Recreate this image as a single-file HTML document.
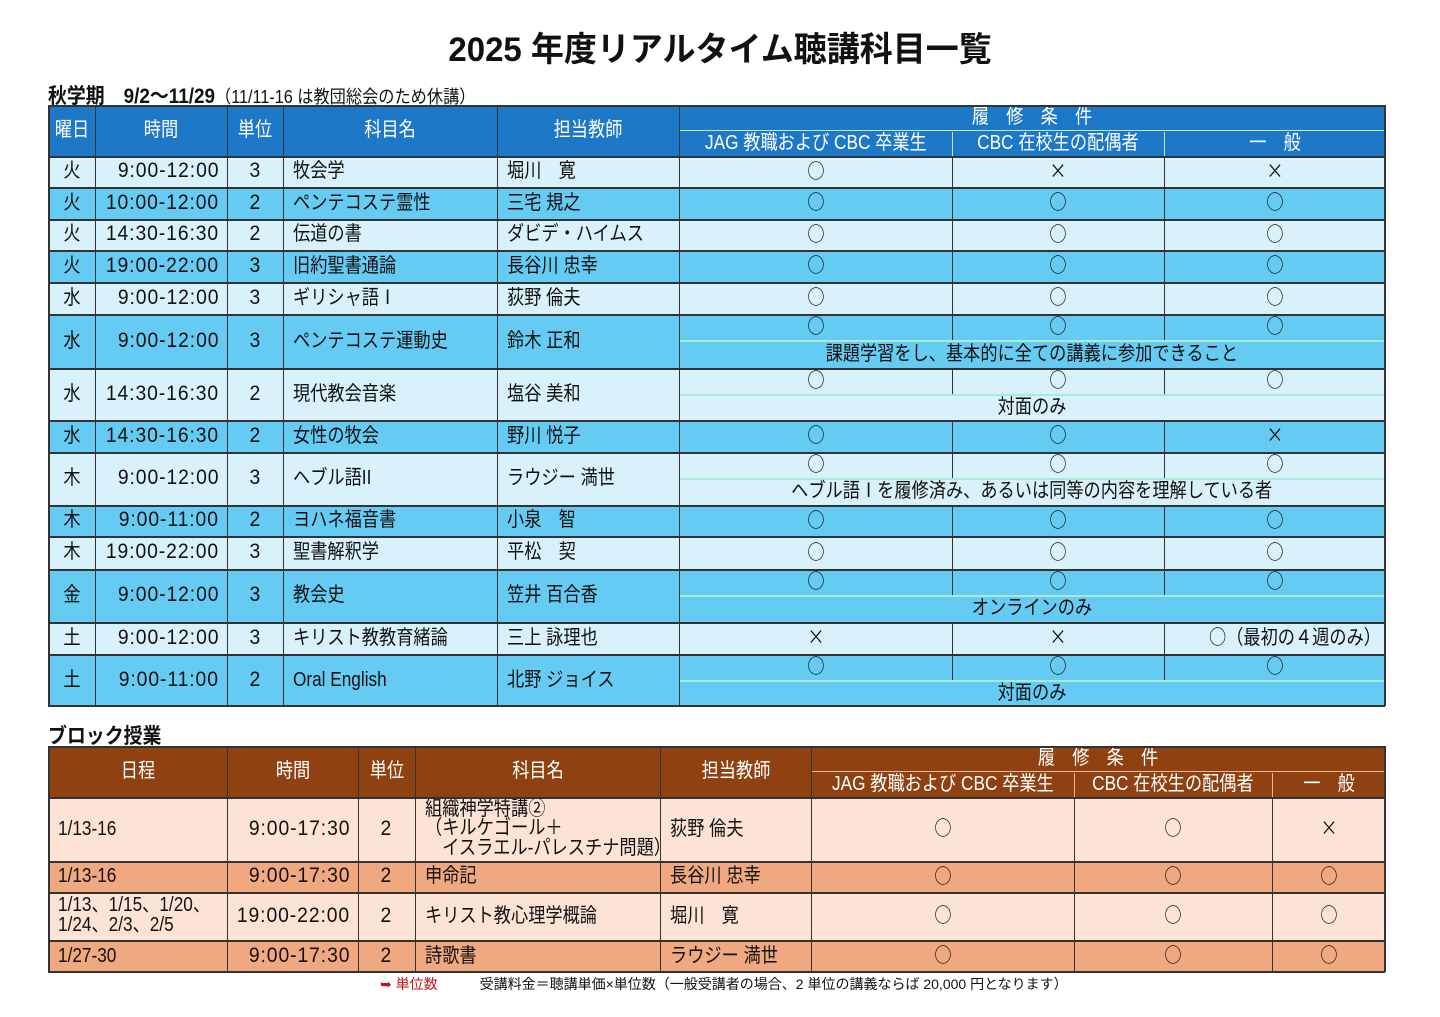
<!DOCTYPE html>
<html lang="ja"><head><meta charset="utf-8">
<style>
html,body{margin:0;padding:0;background:#fff;}
body{width:1440px;height:1017px;position:relative;overflow:hidden;font-family:"Liberation Sans","Noto Sans CJK JP",sans-serif;color:#111;}
.c{position:absolute;box-sizing:border-box;display:flex;align-items:center;overflow:visible;white-space:nowrap;font-size:20px;line-height:1.05;}
.c span{display:inline-block;transform:scaleX(.86);}
.ctr{justify-content:center;}
.ctr span{transform-origin:center;}
.lft{justify-content:flex-start;padding-left:10px;}
.lft span{transform-origin:left center;}
.rgt{justify-content:flex-end;padding-right:8px;}
.rgt span{transform-origin:right center;}
.hd{color:#fff;}
.sym{font-family:"Noto Sans CJK JP",sans-serif;padding-bottom:5px;}
.num{font-size:21px;}
.num span{transform:scaleX(.92);letter-spacing:1px;}
.ln{position:absolute;background:#333;}
</style></head><body>
<div style="position:absolute;left:0;top:22px;width:1440px;text-align:center;font-size:34px;font-weight:bold;"><span style="display:inline-block;transform:scaleX(.97)">2025 年度リアルタイム聴講科目一覧</span></div>
<div style="position:absolute;left:48px;top:80px;font-size:21px;white-space:nowrap;"><span style="display:inline-block;transform:scaleX(.9);transform-origin:left"><b>秋学期　9/2～11/29</b><span style="font-size:18px">（11/11-16 は教団総会のため休講）</span></span></div>
<div style="position:absolute;left:48px;top:720px;font-size:21px;font-weight:bold;white-space:nowrap;"><span style="display:inline-block;transform:scaleX(.9);transform-origin:left">ブロック授業</span></div>
<div id="t1"></div>
<div id="t2"></div>
<div style="position:absolute;left:380px;top:974px;font-size:14px;white-space:nowrap;"><span style="color:#c0141c;">➥ 単位数</span>　　　<span>受講料金＝聴講単価×単位数（一般受講者の場合、2 単位の講義ならば 20,000 円となります）</span></div>
<script>
// autumn table data
const days=['火','火','火','火','水','水','水','水','木','木','木','金','土','土'];
const times=['9:00-12:00','10:00-12:00','14:30-16:30','19:00-22:00','9:00-12:00','9:00-12:00','14:30-16:30','14:30-16:30','9:00-12:00','9:00-11:00','19:00-22:00','9:00-12:00','9:00-12:00','9:00-11:00'];
const units=['3','2','2','3','3','3','2','2','3','2','3','3','3','2'];
const courses=['牧会学','ペンテコステ霊性','伝道の書','旧約聖書通論','ギリシャ語Ⅰ','ペンテコステ運動史','現代教会音楽','女性の牧会','ヘブル語II','ヨハネ福音書','聖書解釈学','教会史','キリスト教教育緒論','Oral English'];
const teachers=['堀川　寛','三宅 規之','ダビデ・ハイムス','長谷川 忠幸','荻野 倫夫','鈴木 正和','塩谷 美和','野川 悦子','ラウジー 満世','小泉　智','平松　契','笠井 百合香','三上 詠理也','北野 ジョイス'];
const condJag=['○','○','○','○','○','○','○','○','○','○','○','○','×','○'];
const condSpouse=['×','○','○','○','○','○','○','○','○','○','○','○','×','○'];
const condGeneral=['×','○','○','○','○','○','○','×','○','○','○','○','○（最初の４週のみ）','○'];
const notes=['','','','','','課題学習をし、基本的に全ての講義に参加できること','対面のみ','','ヘブル語Ⅰを履修済み、あるいは同等の内容を理解している者','','','オンラインのみ','','対面のみ'];
// block table data
const bDates=['1/13-16','1/13-16','1/13、1/15、1/20、<br>1/24、2/3、2/5','1/27-30'];
const bTimes=['9:00-17:30','9:00-17:30','19:00-22:00','9:00-17:30'];
const bUnits=['2','2','2','2'];
const bCourses=['組織神学特講②<br>（キルケゴール＋<br>　イスラエル-パレスチナ問題）','申命記','キリスト教心理学概論','詩歌書'];
const bTeachers=['荻野 倫夫','長谷川 忠幸','堀川　寛','ラウジー 満世'];
const bJag=['○','○','○','○'];
const bSpouse=['○','○','○','○'];
const bGeneral=['×','○','○','○'];

function cell(parent,x,y,w,h,html,cls,bg){
  const d=document.createElement('div');
  d.className='c '+cls;
  d.style.left=x+'px';d.style.top=y+'px';d.style.width=w+'px';d.style.height=h+'px';
  if(bg)d.style.background=bg;
  d.innerHTML='<span>'+html+'</span>';
  parent.appendChild(d);return d;
}
function line(parent,x,y,w,h,col){
  const d=document.createElement('div');d.className='ln';
  d.style.left=x+'px';d.style.top=y+'px';d.style.width=w+'px';d.style.height=h+'px';
  if(col)d.style.background=col;
  parent.appendChild(d);return d;
}
// ---- table 1
const t1=document.getElementById('t1');
const X=[48,95,227,283,497,679,952,1164,1385];
const rowH=[31,32,31,32,32,54,52,32,53,31,33,53,32,52];
const HB='#1e78c8',L1='#d8f1fa',D1='#66cbf2';
let y0=105,hH=51;
cell(t1,X[0],y0,X[8]-X[0],hH,'', '',HB);
const hdr=['曜日','時間','単位','科目名','担当教師'];
for(let i=0;i<5;i++){const e=cell(t1,X[i],y0,X[i+1]-X[i],hH,hdr[i],'ctr hd');

}
let e=cell(t1,X[5],y0,X[8]-X[5],25,'履　修　条　件','ctr hd');


const sub=['JAG 教職および CBC 卒業生','CBC 在校生の配偶者','一　般'];
for(let i=0;i<3;i++){const s=cell(t1,X[5+i],y0+25,X[6+i]-X[5+i],26,sub[i],'ctr hd');

}
line(t1,X[5],y0+25,X[8]-X[5],1,'#bfe3f7');
let y=y0+hH;
const tops=[];
for(let r=0;r<days.length;r++){
  const h=rowH[r],bg=r%2?D1:L1;tops.push(y);
  const row=document.createElement('div');
  
  
  t1.appendChild(row);
  cell(row,X[0],y,X[8]-X[0],h,'','',bg);
  cell(row,X[0],y,X[1]-X[0],h,days[r],'ctr');
  cell(row,X[1],y,X[2]-X[1],h,times[r],'rgt num');
  cell(row,X[2],y,X[3]-X[2],h,units[r],'ctr num');
  cell(row,X[3],y,X[4]-X[3],h,courses[r],'lft');
  cell(row,X[4],y,X[5]-X[4],h,teachers[r],'lft');
  const ch=notes[r]?26:h;
  const cv=[condJag[r],condSpouse[r],condGeneral[r]];
  for(let i=0;i<3;i++){const k=cell(row,X[5+i],y,X[6+i]-X[5+i],ch,cv[i],(cv[i].length>1?'rgt':'ctr')+' sym');
    if(cv[i].length>1)k.style.paddingRight='4px';}
  for(let i=6;i<8;i++)line(row,X[i],y,1,ch);
  if(notes[r]){line(row,X[5]+1,y+ch,X[8]-X[5]-1,2,'#a8ecd8');
    cell(row,X[5],y+ch,X[8]-X[5],h-ch,notes[r],'ctr');}
  y+=h;
}
for(const t of tops)line(t1,X[0],t,X[8]-X[0],2);
line(t1,X[0],y0,X[8]-X[0],2);line(t1,X[0],y-1,X[8]-X[0],2);
for(let i=0;i<6;i++)line(t1,X[i],y0,i==0?2:1,y-y0);
line(t1,X[8]-1,y0,2,y-y0);
line(t1,X[6],y0+27,1,hH-27,'#bfe3f7');line(t1,X[7],y0+27,1,hH-27,'#bfe3f7');
// ---- table 2
const t2=document.getElementById('t2');
const Z=[48,227,358,415,660,811,1074,1272,1385];
const bH=[64,31,48,32];
const BH='#8f4111',L2='#fce3d6',D2='#f0a880';
y0=746;hH=51;
cell(t2,Z[0],y0,Z[8]-Z[0],hH,'','',BH);
const hdr2=['日程','時間','単位','科目名','担当教師'];
for(let i=0;i<5;i++){const h2=cell(t2,Z[i],y0,Z[i+1]-Z[i],hH,hdr2[i],'ctr hd');

}
e=cell(t2,Z[5],y0,Z[8]-Z[5],25,'履　修　条　件','ctr hd');


for(let i=0;i<3;i++){const s=cell(t2,Z[5+i],y0+25,Z[6+i]-Z[5+i],26,sub[i],'ctr hd');

}
line(t2,Z[5],y0+25,Z[8]-Z[5],1,'#e8b898');
line(t2,Z[6],y0+27,1,hH-27,'#e8b898');line(t2,Z[7],y0+27,1,hH-27,'#e8b898');
y=y0+hH;const tops2=[];
for(let r=0;r<bDates.length;r++){
  const h=bH[r],bg=r%2?D2:L2;tops2.push(y);
  const row=document.createElement('div');
  
  
  t2.appendChild(row);
  cell(row,Z[0],y,Z[8]-Z[0],h,'','',bg);
  cell(row,Z[0],y,Z[1]-Z[0],h,bDates[r],'lft');
  cell(row,Z[1],y,Z[2]-Z[1],h,bTimes[r],'rgt num');
  cell(row,Z[2],y,Z[3]-Z[2],h,bUnits[r],'ctr num');
  cell(row,Z[3],y,Z[4]-Z[3],h,bCourses[r],'lft');
  cell(row,Z[4],y,Z[5]-Z[4],h,bTeachers[r],'lft');
  const cv=[bJag[r],bSpouse[r],bGeneral[r]];
  for(let i=0;i<3;i++)cell(row,Z[5+i],y,Z[6+i]-Z[5+i],h,cv[i],'ctr sym');
  y+=h;
}
for(const t of tops2)line(t2,Z[0],t,Z[8]-Z[0],2);
line(t2,Z[0],y0,Z[8]-Z[0],2);line(t2,Z[0],y-1,Z[8]-Z[0],2);
for(let i=0;i<6;i++)line(t2,Z[i],y0,i==0?2:1,y-y0);
for(let i=6;i<8;i++)line(t2,Z[i],y0+hH,1,y-y0-hH);
line(t2,Z[8]-1,y0,2,y-y0);
document.querySelectorAll('#t2 .c span').forEach(s=>{if(s.innerHTML.indexOf('<br>')>=0)s.style.lineHeight='0.98';});
</script>
</body></html>
